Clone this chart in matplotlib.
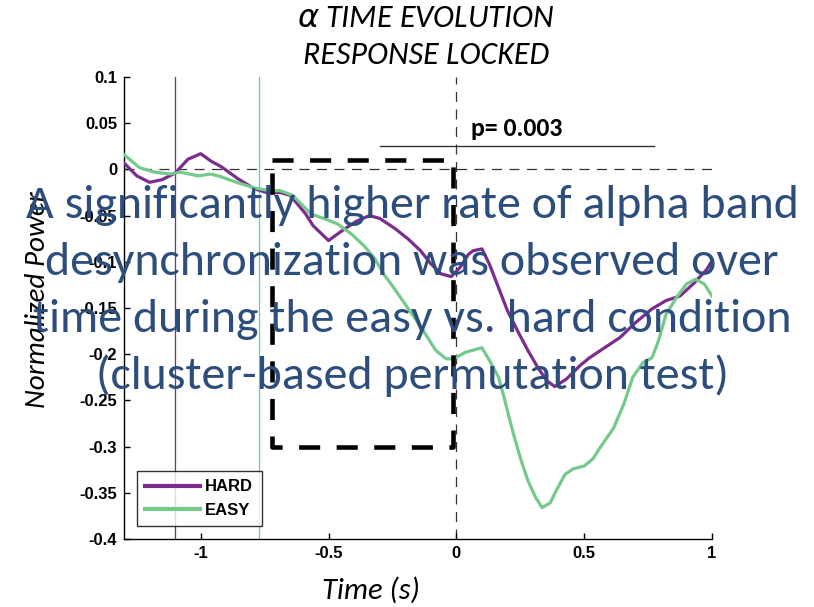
import matplotlib
matplotlib.use("Agg")
import matplotlib.pyplot as plt
from matplotlib import font_manager as fm

# ---- data -------------------------------------------------------------
hard_t = [-1.30, -1.25, -1.20, -1.15, -1.10, -1.05, -1.00, -0.96, -0.92, -0.855,
          -0.79, -0.73, -0.69, -0.65, -0.59, -0.56, -0.50, -0.44, -0.39, -0.34,
          -0.30, -0.24, -0.19, -0.14, -0.10, -0.06, -0.02, 0.015, 0.047, 0.066,
          0.10, 0.13, 0.165, 0.20, 0.24, 0.28, 0.32, 0.355, 0.385, 0.43,
          0.485, 0.52, 0.58, 0.64, 0.70, 0.765, 0.82, 0.875, 0.93, 0.98, 1.0]
hard_v = [0.007, -0.007, -0.014, -0.011, -0.004, 0.011, 0.017, 0.009, 0.003, -0.010,
          -0.021, -0.026, -0.025, -0.028, -0.048, -0.061, -0.077, -0.065, -0.056, -0.050,
          -0.053, -0.064, -0.075, -0.088, -0.102, -0.113, -0.116, -0.106, -0.092, -0.088,
          -0.086, -0.103, -0.128, -0.153, -0.175, -0.196, -0.215, -0.229, -0.235, -0.227,
          -0.212, -0.204, -0.193, -0.182, -0.166, -0.151, -0.142, -0.137, -0.123, -0.108, -0.099]

easy_t = [-1.30, -1.24, -1.18, -1.12, -1.08, -1.01, -0.96, -0.92, -0.86, -0.79,
          -0.73, -0.69, -0.64, -0.57, -0.52, -0.465, -0.41, -0.36, -0.32, -0.285,
          -0.245, -0.21, -0.14, -0.08, -0.04, -0.01, 0.035, 0.10, 0.13, 0.165,
          0.185, 0.22, 0.25, 0.28, 0.31, 0.335, 0.367, 0.39, 0.425, 0.458,
          0.50, 0.535, 0.56, 0.615, 0.655, 0.69, 0.73, 0.765, 0.79, 0.82,
          0.86, 0.90, 0.935, 0.97, 1.0]
easy_v = [0.016, 0.002, -0.003, -0.005, -0.003, -0.007, -0.005, -0.008, -0.014, -0.020,
          -0.023, -0.023, -0.028, -0.048, -0.053, -0.059, -0.070, -0.083, -0.096, -0.113,
          -0.128, -0.142, -0.170, -0.196, -0.205, -0.205, -0.198, -0.193, -0.207, -0.225,
          -0.245, -0.283, -0.312, -0.337, -0.355, -0.366, -0.361, -0.348, -0.330, -0.324,
          -0.321, -0.313, -0.302, -0.280, -0.254, -0.225, -0.209, -0.204, -0.186, -0.157,
          -0.139, -0.124, -0.119, -0.124, -0.137]

series_names = ["HARD", "EASY"]
onset_hard = -1.10          # mean onset marker, hard condition
onset_easy = -0.77          # mean onset marker, easy condition
window_t = [-0.72, -0.015]  # analysis window
window_v = [-0.30, 0.010]
cluster_t = [-0.30, 0.775]  # significant cluster span
cluster_y = 0.025
p_text = "p= 0.003"

x_ticks = [-1, -0.5, 0, 0.5, 1]
x_ticklabels = ["-1", "-0.5", "0", "0.5", "1"]
y_ticks = [0.1, 0.05, 0, -0.05, -0.1, -0.15, -0.2, -0.25, -0.3, -0.35, -0.4]
y_ticklabels = ["0.1", "0.05", "0", "-0.05", "-0.1", "-0.15", "-0.2", "-0.25",
                "-0.3", "-0.35", "-0.4"]

note_lines = ["A significantly higher rate of alpha band",
              "desynchronization was observed over",
              "time during the easy vs. hard condition",
              "(cluster-based permutation test)"]

# ---- fonts ------------------------------------------------------------
_avail = {f.name for f in fm.fontManager.ttflist}


def pick(*names):
    for n in names:
        if n in _avail:
            return n
    return "DejaVu Sans"


F_HUMAN = pick("Carlito", "Lato", "Open Sans")
F_TICK = pick("Liberation Sans", "Arial", "DejaVu Sans")

PURPLE = "#7B2D8E"
GREEN = "#74C98B"
NOTE = "#2D4E7C"

# ---- figure -----------------------------------------------------------
fig = plt.figure(figsize=(8.14, 6.07), dpi=100)
ax = fig.add_axes([124 / 814, 1 - 539 / 607, 588 / 814, 462 / 607])
ax.set_xlim(-1.3, 1.0)
ax.set_ylim(-0.4, 0.1)

ax.spines["top"].set_visible(False)
ax.spines["right"].set_visible(False)
for s in ("left", "bottom"):
    ax.spines[s].set_linewidth(1.0)

ax.set_xticks(x_ticks)
ax.set_xticklabels(x_ticklabels)
ax.set_yticks(y_ticks)
ax.set_yticklabels(y_ticklabels)
ax.tick_params(direction="in", length=4, width=1.0, pad=5)
for lab in ax.get_xticklabels() + ax.get_yticklabels():
    lab.set_fontfamily(F_TICK)
    lab.set_fontweight("bold")
    lab.set_fontsize(12)

# reference lines
ax.axhline(0, color="#333333", lw=0.9, dashes=(8, 6), zorder=1)
ax.axvline(0, color="#333333", lw=0.9, dashes=(8, 6), zorder=1)
ax.axvline(onset_hard, color=PURPLE, lw=0.9, zorder=1)
ax.axvline(onset_easy, color=GREEN, lw=0.9, zorder=1)

# condition curves
ax.plot(hard_t, hard_v, color=PURPLE, lw=2.3, label=series_names[0], zorder=3,
        solid_joinstyle="round")
ax.plot(easy_t, easy_v, color=GREEN, lw=2.3, label=series_names[1], zorder=3,
        solid_joinstyle="round")

# analysis window (thick dashed box)
bx = [window_t[0], window_t[1], window_t[1], window_t[0], window_t[0]]
by = [window_v[1], window_v[1], window_v[0], window_v[0], window_v[1]]
ax.plot(bx, by, color="black", lw=3.3, dashes=(4.6, 3.6), zorder=4,
        solid_capstyle="butt", dash_capstyle="butt")

# significant cluster
ax.plot(cluster_t, [cluster_y, cluster_y], color="#333333", lw=1.0, zorder=2)
ax.text(0.059, 0.036, p_text, fontfamily=F_HUMAN, fontweight="bold",
        fontsize=18.5, ha="left", va="baseline", zorder=5)

leg = ax.legend(loc="lower left", bbox_to_anchor=(0.022, 0.028), borderaxespad=0,
                frameon=True, fancybox=False, handlelength=3.3, handletextpad=0.3,
                labelspacing=0.5, borderpad=0.5,
                prop={"family": F_TICK, "weight": "bold", "size": 12})
leg.get_frame().set_edgecolor("black")
leg.get_frame().set_linewidth(1.0)
for h in leg.get_lines():
    h.set_linewidth(3.0)
leg.set_zorder(6)

# titles and axis labels
fig.text(426 / 814, 1 - 18 / 607, r"$\alpha$ TIME EVOLUTION", fontfamily=F_HUMAN,
         style="italic", fontsize=23, ha="center", va="center")
fig.text(426 / 814, 1 - 55 / 607, "RESPONSE LOCKED", fontfamily=F_HUMAN,
         style="italic", fontsize=23, ha="center", va="center")
fig.text(371 / 814, 1 - 590 / 607, "Time (s)", fontfamily=F_HUMAN,
         style="italic", fontsize=22, ha="center", va="center")
fig.text(38 / 814, 1 - 300 / 607, "Normalized Power", fontfamily=F_HUMAN,
         style="italic", fontsize=21, ha="center", va="center", rotation=90)

# overlaid annotation
for i, line in enumerate(note_lines):
    fig.text(412 / 814, 1 - (218 + 57 * i) / 607, line, fontfamily=F_HUMAN,
             fontsize=34.5, color=NOTE, ha="center", va="baseline", zorder=10)

fig.savefig("out.png", dpi=100)
